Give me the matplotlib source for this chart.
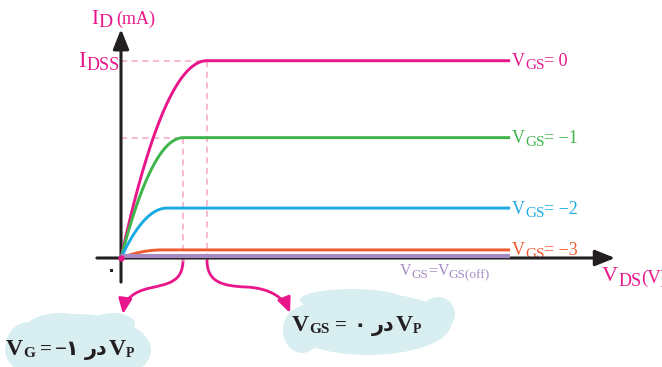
import numpy as np
import matplotlib
matplotlib.use('Agg')
import matplotlib.pyplot as plt
from matplotlib.patches import Ellipse, FancyArrowPatch
from matplotlib.path import Path

# ---------------- data ----------------
vgs_values = [0, -1, -2, -3]                 # V
id_sat = [10.0, 6.1, 2.53, 0.41]             # saturation drain current, mA (IDSS = 10)
vds_sat = [4.0, 2.9, 2.14, 1.9]              # knee voltage, V
vds_end = 18.1                               # end of drawn curves, V
off_level = 0.08                             # VGS = VGS(off) line (ID ~ 0)
label_values = ['= 0', '= \u22121', '= \u22122', '= \u22123']
curve_colors = ['#e8168a', '#3db54a', '#1aabe3', '#ef5b30']
off_color = '#a68bc2'
pink = '#e8168a'
dash_color = '#f5a6c8'
axis_color = '#231f20'
cloud_color = '#d9eef1'

W, H = 662, 367
fig = plt.figure(figsize=(W / 100, H / 100), dpi=100)

# decoration layer in pixel coordinates
deco = fig.add_axes([0, 0, 1, 1])
deco.set_xlim(0, W)
deco.set_ylim(H, 0)
deco.axis('off')

# data layer
ax = fig.add_axes([0, 0, 1, 1])
ax.patch.set_alpha(0)
ax.axis('off')
X0, Y0, SX, SY = 121, 258, 21.5, 19.73
ax.set_xlim(-X0 / SX, (W - X0) / SX)
ax.set_ylim((Y0 - H) / SY, Y0 / SY)

# ---------------- curves ----------------
vds = np.linspace(0, vds_end, 600)
for isat, vs, c in zip(id_sat, vds_sat, curve_colors):
    u = np.clip(vds / vs, 0, 1)
    ax.plot(vds, isat * (2 * u - u ** 2), color=c, lw=2.1, solid_capstyle='butt', zorder=4)

ax.plot([0, vds_end], [off_level, off_level], color=off_color, lw=3, zorder=5,
        solid_capstyle='butt')

# dashed guide lines
for isat, vs in zip(id_sat[:2], vds_sat[:2]):
    ax.plot([0, vs], [isat, isat], color=dash_color, lw=1.1, ls=(0, (4, 3)), zorder=2)
    ax.plot([vs, vs], [isat, -0.2], color=dash_color, lw=1.1, ls=(0, (4, 3)), zorder=2)

# axes arrows
arrow_style = '-|>,head_length=12,head_width=4.8'
ax.annotate('', xy=(0, 11.6), xytext=(0, -1.22),
            arrowprops=dict(arrowstyle=arrow_style, lw=2.2, color=axis_color,
                            shrinkA=0, shrinkB=0, mutation_scale=1), zorder=3)
ax.annotate('', xy=(22.98, 0), xytext=(-1.12, 0),
            arrowprops=dict(arrowstyle=arrow_style, lw=2.2, color=axis_color,
                            shrinkA=0, shrinkB=0, mutation_scale=1), zorder=3)
ax.plot([0], [0], 'o', color=pink, ms=3.5, zorder=6)

# ---------------- clouds ----------------
clouds = [
    [(78, 350, 146, 72), (113, 324, 44, 22), (30, 345, 48, 46), (60, 330, 70, 34)],
    [(368, 324, 166, 62), (352, 300, 104, 22), (302, 330, 38, 46), (438, 314, 34, 34)],
]
for cl in clouds:
    for cx, cy, w, h in cl:
        deco.add_patch(Ellipse((cx, cy), w, h, color=cloud_color, lw=0, zorder=1))

# curved pink arrows
def curved_arrow(verts):
    codes = [Path.MOVETO] + [Path.CURVE4] * (len(verts) - 1)
    deco.add_patch(FancyArrowPatch(path=Path(verts, codes),
                                   arrowstyle='-|>,head_length=9,head_width=4',
                                   color=pink, lw=2, mutation_scale=1, zorder=3))

curved_arrow([(183, 260), (183, 282), (168, 284), (150, 288),
              (132, 292), (125, 300), (123, 314)])
curved_arrow([(207, 260), (207, 282), (222, 286), (246, 287),
              (270, 288), (284, 298), (290, 313)])

# ---------------- text ----------------
renderer = fig.canvas.get_renderer()
SERIF = ['Liberation Serif', 'DejaVu Sans']
ARAB = ['DejaVu Sans']


def pieces(x, y, items, color, weight='normal'):
    for it in items:
        s, size, dy = it[0], it[1], it[2]
        fam = it[3] if len(it) > 3 else SERIF
        gap = it[4] if len(it) > 4 else 0
        t = deco.text(x, y + dy, s, fontsize=size, color=color, family=fam,
                      weight=weight, ha='left', va='baseline', zorder=5)
        bb = t.get_window_extent(renderer)
        x += bb.width + gap


# axis titles
pieces(91, 24, [('I', 15, 0), ('D', 14, 3)], pink)
deco.text(116, 24, '(mA)', fontsize=13, color=pink, family=SERIF, va='baseline')
pieces(78, 67, [('I', 16.5, 0, SERIF, 1), ('DSS', 13, 3)], pink)
pieces(602, 281, [('V', 16, 0), ('DS', 13, 5), ('(V)', 13.5, 2)], pink)

# curve labels
for isat, lab, c in zip(id_sat, label_values, curve_colors):
    yp = Y0 - isat * SY
    pieces(512, yp + 5.5, [('V', 13, 0), ('GS', 11, 3), (lab, 13, 0)], c)

pieces(400, 275, [('V', 11.5, 0), ('GS', 9.5, 3), ('=', 11.5, 0), ('V', 11.5, 0),
                  ('GS(off)', 9.5, 3)], off_color)

# origin
deco.text(112, 270, '\u06f0', fontsize=20, color=axis_color, family=ARAB,
          ha='center', va='center')

# cloud texts (visual left-to-right order; Persian word reversed for display)
dar = 'در'[::-1]
pieces(6, 355, [('V', 17, 0), ('G', 11, 2, SERIF, 5), ('=', 15, 0, SERIF, 3),
                ('\u2212\u06f1', 15, 0, SERIF, 6), (dar, 15, 0, ARAB, 1),
                ('V', 17, 0), ('P', 10, 2)], '#231f20', weight='bold')
pieces(292, 331, [('V', 17, 0), ('GS', 11, 2, SERIF, 6), ('=', 15, 0, SERIF, 6),
                  ('\u06f0', 15, 0, ARAB, 6), (dar, 15, 0, ARAB, 1),
                  ('V', 17, 0), ('P', 10, 2)], '#231f20', weight='bold')

fig.savefig('out.png', dpi=100)
